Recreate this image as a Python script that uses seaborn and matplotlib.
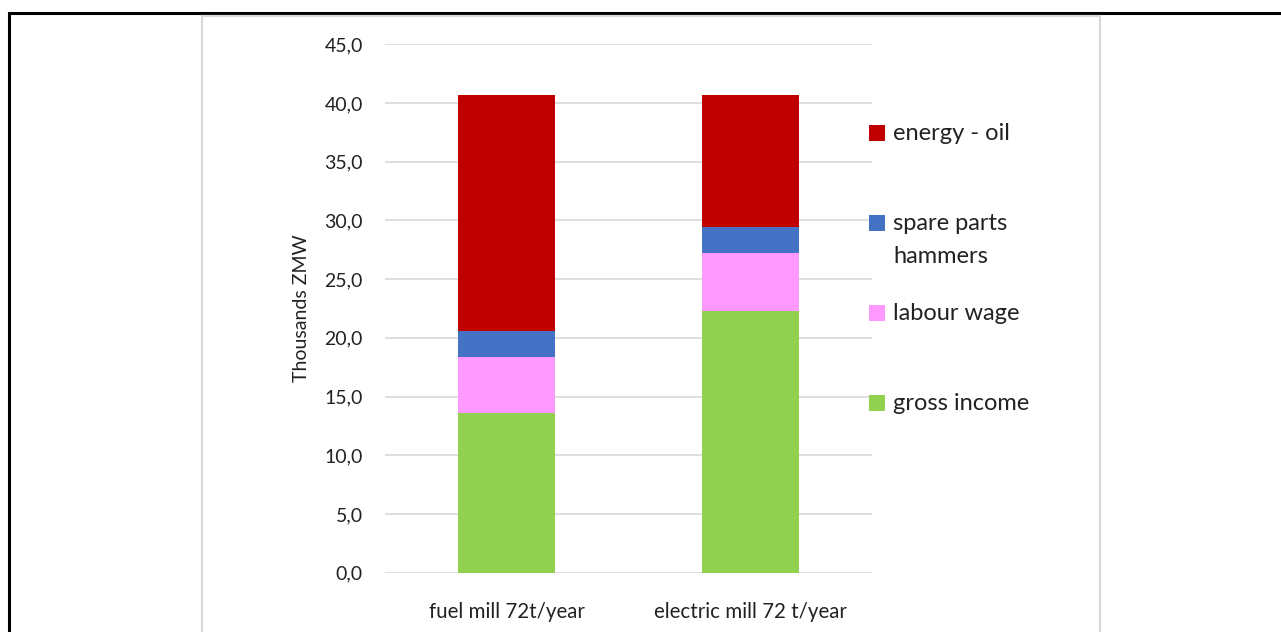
import numpy as np
import matplotlib
matplotlib.use("Agg")
import matplotlib.pyplot as plt
from matplotlib.patches import Rectangle
from matplotlib.ticker import FuncFormatter
import seaborn as sns

# data (thousands ZMW), stacked bottom -> top
categories = ["fuel mill 72t/year", "electric mill 72 t/year"]
layers = ["gross income", "labour wage", "spare parts\nhammers", "energy - oil"]
gross_income = [13.6, 22.3]
labour_wage = [4.8, 4.9]
spare_parts = [2.2, 2.25]
energy_oil = [20.05, 11.2]
colors = ["#92D050", "#FF99FF", "#4472C4", "#C00000"]
y_ticks = np.arange(0, 46, 5)

sns.set_theme(style="white")
plt.rcParams["font.family"] = ["Lato", "DejaVu Sans"]

W, H = 1281, 632
fig = plt.figure(figsize=(W / 100, H / 100), dpi=100)
ax = fig.add_axes([385 / W, 1 - 572.7 / H, 487 / W, 528.4 / H])

# outer black frame and inner grey chart frame
fig.patches.append(Rectangle((9 / W, -0.2), 2, 1.2 - 13 / H, transform=fig.transFigure,
                             fill=False, edgecolor="black", linewidth=2.2))
fig.patches.append(Rectangle((202 / W, -0.2), 898 / W, 1.2 - 16 / H, transform=fig.transFigure,
                             fill=False, edgecolor="#d9d9d9", linewidth=1.6))

values = np.array([gross_income, labour_wage, spare_parts, energy_oil])
cum = np.cumsum(values, axis=0)

# draw cumulative totals from top layer down so lower layers sit on top
for i in range(len(layers) - 1, -1, -1):
    sns.barplot(x=categories, y=cum[i], color=colors[i], width=0.4,
                saturation=1, linewidth=0, ax=ax, zorder=3)

ax.set_xlim(-0.5, 1.5)
ax.set_ylim(0, 45)
ax.set_yticks(y_ticks)
ax.yaxis.set_major_formatter(FuncFormatter(lambda v, p: f"{v:.1f}".replace(".", ",")))
ax.grid(axis="y", color="#d9d9d9", linewidth=1.2, zorder=0)
ax.set_axisbelow(True)
for s in ax.spines.values():
    s.set_visible(False)
ax.tick_params(axis="y", length=0, pad=16, labelsize=14, labelcolor="#222222")
ax.tick_params(axis="x", length=0, pad=21, labelsize=14.8, labelcolor="#222222")
ax.set_ylabel("Thousands ZMW", fontsize=14, color="#222222", labelpad=10)
ax.set_xlabel("")

# legend, top to bottom in reverse stacking order
leg_y0, leg_step = 133, 90
for k, i in enumerate(range(len(layers) - 1, -1, -1)):
    yc = leg_y0 + k * leg_step
    fig.patches.append(Rectangle((869 / W, 1 - (yc + 8) / H), 16 / W, 16 / H,
                                 transform=fig.transFigure, facecolor=colors[i],
                                 edgecolor="none"))
    if "\n" in layers[i]:
        fig.text(893 / W, 1 - (yc - 10) / H, layers[i], fontsize=17, color="#222222",
                 va="top", ha="left", linespacing=1.7)
    else:
        fig.text(893 / W, 1 - yc / H, layers[i], fontsize=17, color="#222222",
                 va="center", ha="left")

fig.savefig("out.png", dpi=100, facecolor="white")
